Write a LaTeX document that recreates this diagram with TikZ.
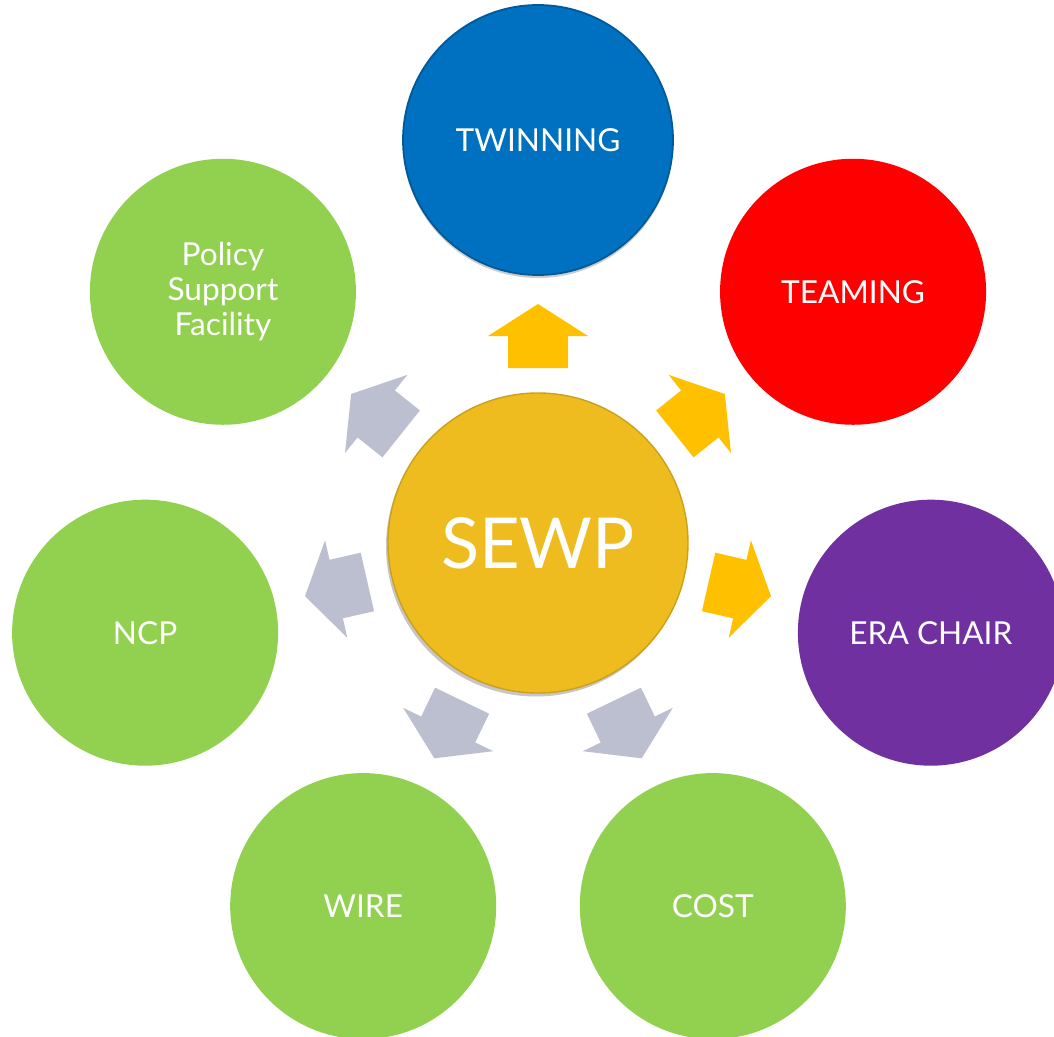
\documentclass[tikz,border=0pt]{standalone}
\usepackage{fontspec}
\setmainfont{Lato}
\usetikzlibrary{shadows}
\definecolor{hubyellow}{HTML}{EFBC20}
\definecolor{twinblue}{HTML}{0070C0}
\definecolor{teamred}{HTML}{FF0000}
\definecolor{erapurple}{HTML}{7030A0}
\definecolor{leafgreen}{HTML}{92D050}
\definecolor{arrowgold}{HTML}{FFC000}
\definecolor{arrowgrey}{HTML}{BBBFCF}
\tikzset{
  leaf/.style={circle, minimum size=5.32cm, inner sep=0pt, text=white,
    font=\fontsize{18}{20}\selectfont, align=center},
  hub/.style={circle, minimum size=6cm, inner sep=0pt, fill=hubyellow,
    draw=hubyellow!85!black, line width=0.8pt, text=white,
    font=\fontsize{40}{44}\selectfont,
    drop shadow={shadow xshift=-0.04cm, shadow yshift=-0.07cm, opacity=0.45}},
  pics/blockarrow/.style={code={
    \fill (3.5,-0.6) -- (4.14,-0.6) -- (4.14,-1.0) -- (4.78,0)
      -- (4.14,1.0) -- (4.14,0.6) -- (3.5,0.6) -- cycle;}}
}
\begin{document}
\begin{tikzpicture}
      \useasboundingbox (-10.76,-9.86) rectangle (10.32,10.86);
      \node[hub] (hub) at (0,0) {SEWP};
      \path
        (90.00:8.06) node[leaf, minimum size=5.4cm, fill=twinblue,
          draw=twinblue!80!black, line width=1pt,
          drop shadow={shadow xshift=0cm, shadow yshift=-0.06cm, opacity=0.4}] (twin) {TWINNING}
        (38.57:8.06) node[leaf, fill=teamred] (team) {TEAMING}
        (-12.86:8.06) node[leaf, fill=erapurple] (era) {ERA CHAIR}
        (-64.29:8.06) node[leaf, fill=leafgreen] (cost) {COST}
        (-115.71:8.06) node[leaf, fill=leafgreen] (wire) {WIRE}
        (-167.14:8.06) node[leaf, fill=leafgreen] (ncp) {NCP}
        (141.43:8.06) node[leaf, fill=leafgreen] (psf) {Policy\\Support\\Facility};
      \foreach \a/\c in {90/arrowgold, 38.57/arrowgold, -12.86/arrowgold,
          -64.29/arrowgrey, -115.71/arrowgrey, -167.14/arrowgrey, 141.43/arrowgrey}
        \pic[rotate=\a, color=\c] at (hub) {blockarrow};
    \end{tikzpicture}
\end{document}
